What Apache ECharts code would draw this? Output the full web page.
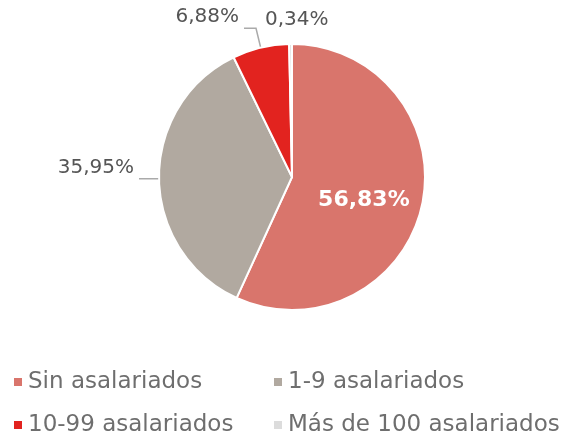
<!DOCTYPE html>
<html style="height: 100%">
<head>
	<meta charset="utf-8">
</head>
<body style="height: 100%; margin: 0; background: #fff">
<div id="container" style="width: 583px; height: 436px"></div>
<script type="text/javascript" src="https://cdn.jsdelivr.net/npm/echarts@6/dist/echarts.min.js"></script>
<script type="text/javascript">
    var categories = ['Sin asalariados', '1-9 asalariados', '10-99 asalariados', 'Más de 100 asalariados'];
    var values = [56.83, 35.95, 6.88, 0.34];
    var colors = ['#d9756c', '#b1a9a0', '#e2231f', '#dcdcdc'];

    var myChart = echarts.init(document.getElementById('container'));

    var pieData = categories.map(function (name, i) {
        var item = { name: name, value: values[i], itemStyle: { color: colors[i] } };
        if (i === 0) {
            item.label = {
                position: 'inside',
                color: '#fff',
                fontWeight: 'bold',
                fontSize: 22
            };
        }
        if (i === 1) {
            item.labelLine = { length: 6, length2: 14 };
        }
        if (i === 3) {
            item.labelLine = { show: false, length: 0, length2: 0 };
        }
        return item;
    });

    // one legend per entry, laid out in two columns
    var legendSpots = [[12, 370], [272, 370], [12, 413], [272, 413]];
    var legends = categories.map(function (name, i) {
        return {
            orient: 'horizontal',
            left: legendSpots[i][0],
            top: legendSpots[i][1],
            padding: 0,
            itemWidth: 10,
            itemHeight: 10,
            icon: 'rect',
            data: [name],
            textStyle: { color: '#6e6e6e', fontSize: 23, lineHeight: 24, fontFamily: 'DejaVu Sans' }
        };
    });

    function pct(v) {
        return v.toFixed(2).replace('.', ',') + '%';
    }

    var option = {
        backgroundColor: '#fff',
        animation: false,
        legend: legends,
        series: [{
            type: 'pie',
            center: [292, 177],
            radius: 133,
            startAngle: 90,
            clockwise: true,
            avoidLabelOverlap: false,
            itemStyle: { borderColor: '#fff', borderWidth: 2 },
            label: {
                show: true,
                color: '#555',
                fontSize: 20,
                lineHeight: 22,
                fontFamily: 'DejaVu Sans',
                formatter: function (p) {
                    // outer labels sit on top of their leader line
                    if (p.dataIndex === 1 || p.dataIndex === 2) return pct(p.value) + '\n ';
                    return pct(p.value);
                }
            },
            labelLine: {
                length: 20,
                length2: 12,
                lineStyle: { color: '#aaa', width: 1.5 }
            },
            labelLayout: function (p) {
                if (p.dataIndex === 0) return { dx: 4, dy: 8 };
                if (p.dataIndex === 3) return { x: 265, y: 20, align: 'left', verticalAlign: 'middle' };
                return {};
            },
            emphasis: { disabled: true },
            data: pieData
        }]
    };

    myChart.setOption(option, true);
</script>
</body>
</html>
